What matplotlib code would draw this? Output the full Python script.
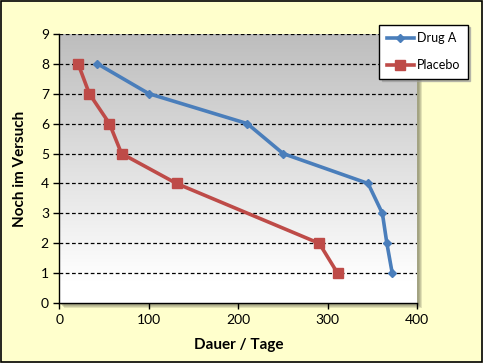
import matplotlib
matplotlib.use("Agg")
import matplotlib.pyplot as plt
import numpy as np
from matplotlib.patches import Rectangle
from matplotlib.colors import LinearSegmentedColormap

drug_a_days = [42.5, 100, 210, 250, 345, 361, 366, 372]
drug_a_count = [8, 7, 6, 5, 4, 3, 2, 1]
placebo_days = [21, 33.5, 56, 69.5, 131, 290.5, 311]
placebo_count = [8, 7, 6, 5, 4, 2, 1]
x_ticks = [0, 100, 200, 300, 400]
y_ticks = list(range(0, 10))

plt.rcParams['font.family'] = ['Lato', 'DejaVu Sans']

W, H = 483, 363
fig = plt.figure(figsize=(4.83, 3.63), dpi=100)
fig.patch.set_facecolor('#FFFFCC')
fig.patches.append(Rectangle((0.002, 0.003), 0.995, 0.994, transform=fig.transFigure,
                             fill=False, edgecolor='black', linewidth=1.2, zorder=10))

ax_pos = [0.1228, 0.1645, 0.7412, 0.7425]
# soft plot area shadow
for off, a in [(5, 0.25), (4, 0.3), (3, 0.35), (2, 0.4)]:
    fig.patches.append(Rectangle((ax_pos[0] + off / W, ax_pos[1] - off / H),
                                 ax_pos[2], ax_pos[3], transform=fig.transFigure,
                                 facecolor='#8C8C70', alpha=a, edgecolor='none',
                                 zorder=-1))
ax = fig.add_axes(ax_pos)
ax.set_zorder(1)
ax.set_xlim(0, 400)
ax.set_ylim(0, 9)
grad = np.linspace(0, 1, 256).reshape(-1, 1)
cmap = LinearSegmentedColormap.from_list('g', [(0, '#FFFFFF'), (0.08, '#FFFFFF'),
                                               (1, '#BDBDBD')])
ax.imshow(grad, extent=[0, 400, 0, 9], origin='lower', aspect='auto', cmap=cmap,
          zorder=0)

for yv in y_ticks[1:]:
    ax.axhline(yv, color='black', linestyle=(0, (3, 2)), linewidth=0.9, zorder=1)

ax.plot(drug_a_days, drug_a_count, color='#4A7EBB', linewidth=2.6, marker='D',
        markersize=4.5, markerfacecolor='#4A7EBB', markeredgecolor='#4A7EBB',
        label='Drug A', zorder=3)
ax.plot(placebo_days, placebo_count, color='#BE4B48', linewidth=2.6, marker='s',
        markersize=7, markerfacecolor='#BE4B48', markeredgecolor='#BE4B48',
        label='Placebo', zorder=3)

ax.set_xticks(x_ticks)
ax.set_yticks(y_ticks)
ax.tick_params(axis='both', labelsize=10, direction='out', length=4, width=1,
               color='black')
ax.tick_params(axis='x', pad=4)
for s in ['top', 'right']:
    ax.spines[s].set_visible(False)
for s in ['left', 'bottom']:
    ax.spines[s].set_linewidth(1)
ax.set_xlabel('Dauer / Tage', fontsize=11, fontweight='bold', labelpad=8)
ax.set_ylabel('Noch im Versuch', fontsize=11, fontweight='bold', labelpad=10)

leg = ax.legend(loc='upper right', bbox_to_anchor=(467.5 / W, 1 - 24.5 / H),
                bbox_transform=fig.transFigure, frameon=True, fancybox=False,
                shadow={'color': '#999999', 'alpha': 0.6}, fontsize=9,
                handlelength=2.2, labelspacing=1.2, borderpad=0.6,
                handletextpad=0.2, borderaxespad=0)
leg.get_frame().set_edgecolor('black')
leg.get_frame().set_linewidth(1)
leg.set_zorder(5)

fig.savefig('out.png', dpi=100, facecolor=fig.get_facecolor())
